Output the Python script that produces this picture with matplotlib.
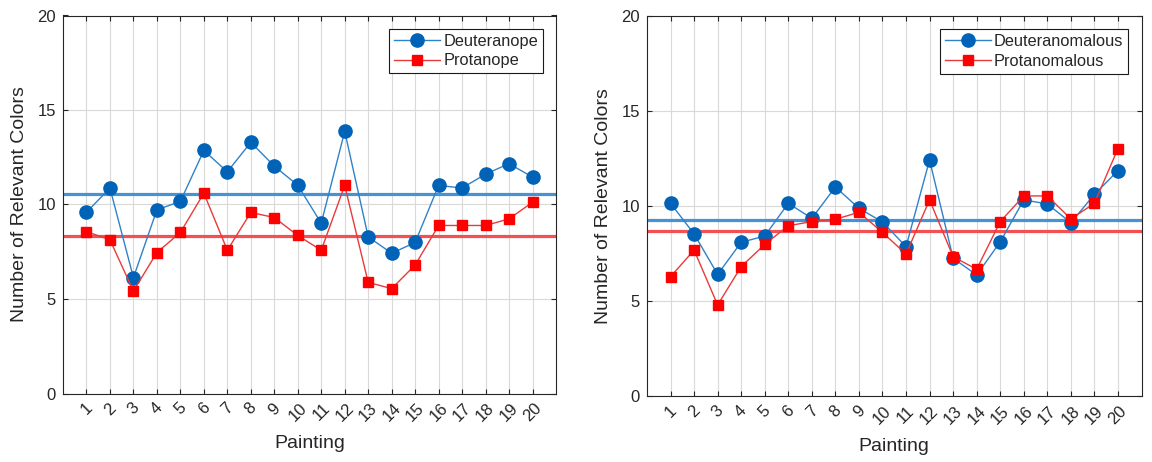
import numpy as np
import matplotlib
matplotlib.use("Agg")
import matplotlib.pyplot as plt

plt.rcParams['font.family'] = ['Liberation Sans', 'DejaVu Sans']

paintings = list(range(1, 21))
tick_labels = [str(p) for p in paintings]

deuteranope = [9.59, 10.87, 6.13, 9.72, 10.16, 12.86, 11.73, 13.29, 12.03, 11.02,
               9.01, 13.87, 8.29, 7.42, 7.99, 11.01, 10.87, 11.61, 12.16, 11.45]
protanope = [8.57, 8.13, 5.42, 7.46, 8.52, 10.60, 7.58, 9.58, 9.31, 8.36,
             7.58, 11.01, 5.88, 5.55, 6.80, 8.89, 8.89, 8.89, 9.24, 10.12]

deuteranomalous = [10.14, 8.53, 6.40, 8.09, 8.42, 10.14, 9.35, 11.00, 9.88, 9.16,
                   7.86, 12.42, 7.25, 6.37, 8.11, 10.32, 10.11, 9.12, 10.61, 11.86]
protanomalous = [6.28, 7.68, 4.79, 6.81, 7.98, 8.96, 9.18, 9.30, 9.67, 8.61,
                 7.47, 10.32, 7.33, 6.67, 9.18, 10.53, 10.53, 9.32, 10.14, 13.02]

panels = [
    ("Deuteranope", deuteranope, "Protanope", protanope,
     [63 / 1152, 1 - 393.5 / 462, 493 / 1152, 378 / 462]),
    ("Deuteranomalous", deuteranomalous, "Protanomalous", protanomalous,
     [647 / 1152, 1 - 396 / 462, 494.5 / 1152, 380 / 462]),
]

BLUE_M = '#0063b8'
BLUE_L = '#2f82c8'
BLUE_MEAN = '#4592d4'
RED_M = '#ff0000'
RED_L = '#e83a3a'
RED_MEAN = '#f25052'
DARK = '#262626'

fig = plt.figure(figsize=(11.52, 4.62), dpi=100)

for name_b, vals_b, name_r, vals_r, pos in panels:
    ax = fig.add_axes(pos)
    ax.axhline(np.mean(vals_b), color=BLUE_MEAN, lw=2.3, zorder=2)
    ax.axhline(np.mean(vals_r), color=RED_MEAN, lw=2.3, zorder=2)
    ax.plot(paintings, vals_b, color=BLUE_L, lw=1.0, marker='o', ms=9.5,
            mfc=BLUE_M, mec=BLUE_M, label=name_b, zorder=3)
    ax.plot(paintings, vals_r, color=RED_L, lw=1.0, marker='s', ms=7.5,
            mfc=RED_M, mec=RED_M, label=name_r, zorder=4)
    ax.set_xlim(0, 21)
    ax.set_ylim(0, 20)
    ax.set_xticks(paintings)
    ax.set_xticklabels(tick_labels, rotation=45, ha='center', va='top',
                       rotation_mode='default')
    ax.set_yticks([0, 5, 10, 15, 20])
    ax.grid(True, color='#d9d9d9', lw=0.8, zorder=0)
    ax.set_axisbelow(True)
    ax.tick_params(direction='in', length=3.5, width=0.8, colors=DARK,
                   labelsize=12, top=True, right=True, pad=5)
    for s in ax.spines.values():
        s.set_color(DARK)
        s.set_linewidth(0.8)
    ax.set_xlabel('Painting', fontsize=14, color=DARK, labelpad=8)
    ax.set_ylabel('Number of Relevant Colors', fontsize=14, color=DARK, labelpad=7)
    leg = ax.legend(loc='upper right', fontsize=11.8, handlelength=2.8,
                    handletextpad=0.2, borderpad=0.3, labelspacing=0.3,
                    borderaxespad=0.8, fancybox=False, framealpha=1)
    leg.get_frame().set_edgecolor('#1a1a1a')
    leg.get_frame().set_linewidth(0.8)
    for t in leg.get_texts():
        t.set_color(DARK)

fig.savefig('out.png', dpi=100)
